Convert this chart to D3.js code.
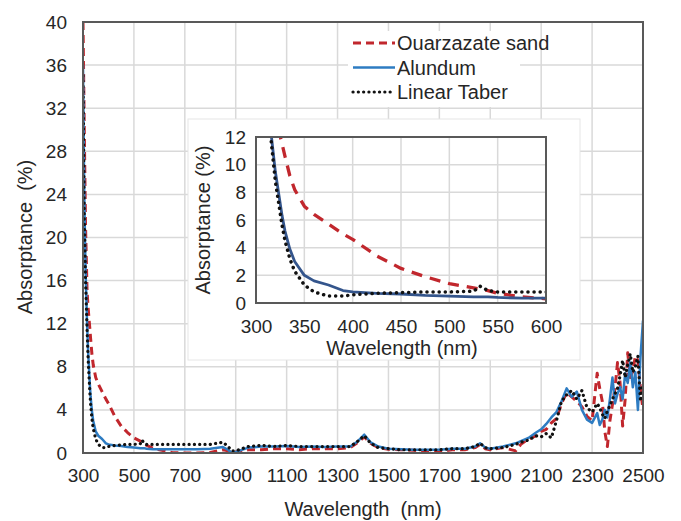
<!DOCTYPE html>
<html>
<head>
<meta charset="utf-8">
<script src="https://cdn.jsdelivr.net/npm/d3@7"></script>
<style>
  body { margin: 0; background: #fff; }
  text { font-family: "Liberation Sans", Arial, sans-serif; fill: #262626; }
</style>
</head>
<body>
<div class="svg"></div>
<script>
//Data
var wavelength = [300,305,310,316,320,327,330,335,340,350,360,375,390,400,425,450,475,500,525,532,540,550,575,600,
  650,700,750,800,850,870,885,900,950,1000,1050,1100,1150,1200,1250,1300,1350,1380,1405,1430,1460,1500,
  1550,1600,1650,1700,1750,1800,1840,1860,1880,1900,1950,2000,2020,2050,2080,2100,2120,2140,2160,2180,
  2200,2220,2240,2260,2280,2300,2320,2330,2340,2350,2360,2370,2380,2390,2400,2410,2420,2430,2440,2450,
  2460,2470,2480,2490,2500];

var sand = [40,30,21,15,13.5,11.5,10.6,9.2,8.2,7.0,6.4,5.7,5.0,4.6,3.4,2.5,1.9,1.4,1.1,1.0,0.9,0.7,0.45,0.3,
  0.05,0.0,0.0,0.05,0.3,0.2,0.0,0.1,0.3,0.3,0.4,0.4,0.3,0.4,0.4,0.4,0.5,1.0,1.5,0.9,0.5,0.35,
  0.3,0.25,0.2,0.15,0.3,0.3,0.5,0.8,0.4,0.3,0.5,0.2,0.8,1.3,1.6,2.0,2.2,2.8,3.2,4.6,
  5.6,5.2,4.8,4.3,3.4,3.0,7.4,6.0,4.8,2.0,0.6,3.0,4.5,6.0,8.4,6.5,2.5,5.0,9.3,7.0,
  7.6,9.0,8.6,6.0,4.0];

var alundum = [36,24,17,12,9.5,6.3,5.2,3.9,3.0,2.0,1.6,1.3,0.9,0.8,0.7,0.65,0.55,0.5,0.45,0.45,0.45,0.4,0.35,0.35,
  0.35,0.35,0.35,0.4,0.55,0.3,0.0,0.1,0.5,0.6,0.6,0.65,0.55,0.6,0.55,0.6,0.6,1.1,1.7,1.0,0.6,0.4,
  0.35,0.3,0.3,0.3,0.4,0.4,0.6,0.9,0.5,0.4,0.6,0.9,1.1,1.4,1.9,2.2,2.7,3.3,3.8,4.8,
  6.0,5.2,5.7,4.0,3.1,2.8,3.7,2.6,3.1,4.0,3.3,5.0,7.0,4.6,5.5,6.1,5.0,7.4,6.5,8.4,
  6.1,7.5,4.0,8.9,12.3];

var taber = [35,22,16,11.5,8.8,5.6,4.5,3.2,2.3,1.3,0.8,0.5,0.5,0.6,0.7,0.75,0.8,0.8,0.85,1.2,0.9,0.8,0.8,0.8,
  0.8,0.8,0.8,0.8,1.0,0.6,0.2,0.2,0.6,0.7,0.6,0.7,0.6,0.6,0.6,0.6,0.6,1.1,1.6,0.9,0.5,0.4,
  0.3,0.3,0.3,0.3,0.4,0.4,0.6,0.9,0.5,0.4,0.5,0.8,1.0,1.2,1.6,1.5,1.8,1.4,3.0,4.8,
  5.4,5.8,5.0,5.8,4.2,3.8,4.6,4.2,3.6,3.2,3.9,4.4,5.0,5.5,6.0,7.2,8.6,7.0,8.2,9.2,
  7.5,8.0,9.0,4.8,6.5];

var mainXTicks = [300,500,700,900,1100,1300,1500,1700,1900,2100,2300,2500];
var mainYTicks = [0,4,8,12,16,20,24,28,32,36,40];
var insetXTicks = [300,350,400,450,500,550,600];
var insetYTicks = [0,2,4,6,8,10,12];

var seriesNames = ["Ouarzazate sand","Alundum","Linear Taber"];

//Config
var width = 681,
    height = 521;

var series = [
  { name : seriesNames[0], values : sand, stroke : "#c1272d", dash : "8,5", cap : "butt", w : 3, insetDash : "11,8", insetStroke : "#c1272d" },
  { name : seriesNames[1], values : alundum, stroke : "#2e7cc2", dash : null, cap : "butt", w : 2.5, insetDash : null, insetStroke : "#34558c" },
  { name : seriesNames[2], values : taber, stroke : "#111", dash : "0.1,5.2", cap : "round", w : 3.2, insetDash : "0.1,6", insetStroke : "#111" }
];

var svg = d3.select(".svg")
  .append("svg")
  .attr("width", width)
  .attr("height", height);

//Main chart
var main = { left : 83, right : 643, top : 22, bottom : 453 };

var x = d3.scaleLinear().domain([300, 2500]).range([main.left, main.right]);
var y = d3.scaleLinear().domain([0, 40]).range([main.bottom, main.top]);

svg.append("clipPath").attr("id","clipMain")
  .append("rect")
  .attr("x", main.left).attr("y", main.top - 2)
  .attr("width", main.right - main.left).attr("height", main.bottom - main.top + 2);

var gGrid = svg.append("g");
gGrid.selectAll(".vg").data(mainXTicks).enter()
  .append("line")
  .attr("x1", function (d) { return x(d); })
  .attr("x2", function (d) { return x(d); })
  .attr("y1", main.top).attr("y2", main.bottom)
  .style("stroke","#d9d9d9").style("stroke-width","1.5px");
gGrid.selectAll(".hg").data(mainYTicks).enter()
  .append("line")
  .attr("y1", function (d) { return y(d); })
  .attr("y2", function (d) { return y(d); })
  .attr("x1", main.left).attr("x2", main.right)
  .style("stroke","#d9d9d9").style("stroke-width","1.5px");

function lineFor(xs, ys) {
  return d3.line()
    .x(function (d, i) { return xs(wavelength[i]); })
    .y(function (d) { return ys(d); });
}

var gLines = svg.append("g").attr("clip-path","url(#clipMain)");
series.forEach(function (s) {
  gLines.append("path")
    .attr("d", lineFor(x, y)(s.values))
    .style("fill","none")
    .style("stroke", s.stroke)
    .style("stroke-width", s.w + "px")
    .style("stroke-linecap", s.cap)
    .style("stroke-linejoin","round")
    .style("stroke-dasharray", s.dash);
});

svg.append("rect")
  .attr("x", main.left).attr("y", main.top)
  .attr("width", main.right - main.left).attr("height", main.bottom - main.top)
  .style("fill","none").style("stroke","#595959").style("stroke-width","2px");

//Axes (labels only)
var xAxis = svg.append("g")
  .attr("transform","translate(0," + main.bottom + ")")
  .call(d3.axisBottom(x).tickValues(mainXTicks).tickFormat(d3.format("d")).tickSize(0).tickPadding(11));
var yAxis = svg.append("g")
  .attr("transform","translate(" + main.left + ",0)")
  .call(d3.axisLeft(y).tickValues(mainYTicks).tickFormat(d3.format("d")).tickSize(0).tickPadding(16));
[xAxis, yAxis].forEach(function (a) {
  a.select(".domain").remove();
  a.selectAll("text")
    .style("font-size","19px")
    .style("font-family","Liberation Sans, Arial, sans-serif")
    .attr("fill","#262626");
});
xAxis.selectAll("text").attr("dy","0.95em");

svg.append("text")
  .attr("x", 363).attr("y", 516)
  .attr("text-anchor","middle")
  .style("font-size","20px")
  .style("white-space","pre")
  .text("Wavelength  (nm)");

svg.append("text")
  .attr("transform","translate(32,237) rotate(-90)")
  .attr("text-anchor","middle")
  .style("font-size","20px")
  .style("white-space","pre")
  .text("Absorptance  (%)");

//Legend
var legend = svg.append("g");
legend.append("rect")
  .attr("x", 348).attr("y", 31).attr("width", 172).attr("height", 76)
  .style("fill","#fff");
var legendRows = legend.selectAll(".lg").data(series).enter()
  .append("g")
  .attr("transform", function (d, i) { return "translate(0," + (43 + i * 24.5) + ")"; });
legendRows.append("line")
  .attr("x1", 353).attr("x2", 395).attr("y1", 0).attr("y2", 0)
  .style("stroke", function (d) { return d.stroke; })
  .style("stroke-width", function (d) { return d.w + "px"; })
  .style("stroke-linecap", function (d) { return d.cap; })
  .style("stroke-dasharray", function (d) { return d.dash; });
legendRows.append("text")
  .attr("x", 397).attr("y", 7)
  .style("font-size","20px")
  .text(function (d) { return d.name; });

//Inset chart
var inset = { left : 256, right : 546, top : 137, bottom : 303 };

svg.append("rect")
  .attr("x", 188).attr("y", 119).attr("width", 392).attr("height", 241)
  .style("fill","#fff").style("stroke","#e6e6e6").style("stroke-width","1px");

var xi = d3.scaleLinear().domain([300, 600]).range([inset.left, inset.right]);
var yi = d3.scaleLinear().domain([0, 12]).range([inset.bottom, inset.top]);

svg.append("clipPath").attr("id","clipInset")
  .append("rect")
  .attr("x", inset.left).attr("y", inset.top)
  .attr("width", inset.right - inset.left).attr("height", inset.bottom - inset.top);

var gInsetGrid = svg.append("g");
gInsetGrid.selectAll(".vg").data(insetXTicks).enter()
  .append("line")
  .attr("x1", function (d) { return xi(d); })
  .attr("x2", function (d) { return xi(d); })
  .attr("y1", inset.top).attr("y2", inset.bottom)
  .style("stroke","#d9d9d9").style("stroke-width","1.5px");
gInsetGrid.selectAll(".hg").data(insetYTicks).enter()
  .append("line")
  .attr("y1", function (d) { return yi(d); })
  .attr("y2", function (d) { return yi(d); })
  .attr("x1", inset.left).attr("x2", inset.right)
  .style("stroke","#d9d9d9").style("stroke-width","1.5px");

var gInsetLines = svg.append("g").attr("clip-path","url(#clipInset)");
series.forEach(function (s) {
  gInsetLines.append("path")
    .attr("d", lineFor(xi, yi)(s.values))
    .style("fill","none")
    .style("stroke", s.insetStroke)
    .style("stroke-width", (s.w + 0.3) + "px")
    .style("stroke-linecap", s.cap)
    .style("stroke-linejoin","round")
    .style("stroke-dasharray", s.insetDash);
});

svg.append("rect")
  .attr("x", inset.left).attr("y", inset.top)
  .attr("width", inset.right - inset.left).attr("height", inset.bottom - inset.top)
  .style("fill","none").style("stroke","#595959").style("stroke-width","2px");

var xiAxis = svg.append("g")
  .attr("transform","translate(0," + inset.bottom + ")")
  .call(d3.axisBottom(xi).tickValues(insetXTicks).tickFormat(d3.format("d")).tickSize(0).tickPadding(12));
var yiAxis = svg.append("g")
  .attr("transform","translate(" + inset.left + ",0)")
  .call(d3.axisLeft(yi).tickValues(insetYTicks).tickFormat(d3.format("d")).tickSize(0).tickPadding(10));
[xiAxis, yiAxis].forEach(function (a) {
  a.select(".domain").remove();
  a.selectAll("text")
    .style("font-size","19px")
    .style("font-family","Liberation Sans, Arial, sans-serif")
    .attr("fill","#262626");
});
xiAxis.selectAll("text").attr("dy","0.95em");

svg.append("text")
  .attr("x", 402).attr("y", 355)
  .attr("text-anchor","middle")
  .style("font-size","20px")
  .text("Wavelength (nm)");

svg.append("text")
  .attr("transform","translate(210,220) rotate(-90)")
  .attr("text-anchor","middle")
  .style("font-size","20px")
  .text("Absorptance (%)");
</script>
</body>
</html>
